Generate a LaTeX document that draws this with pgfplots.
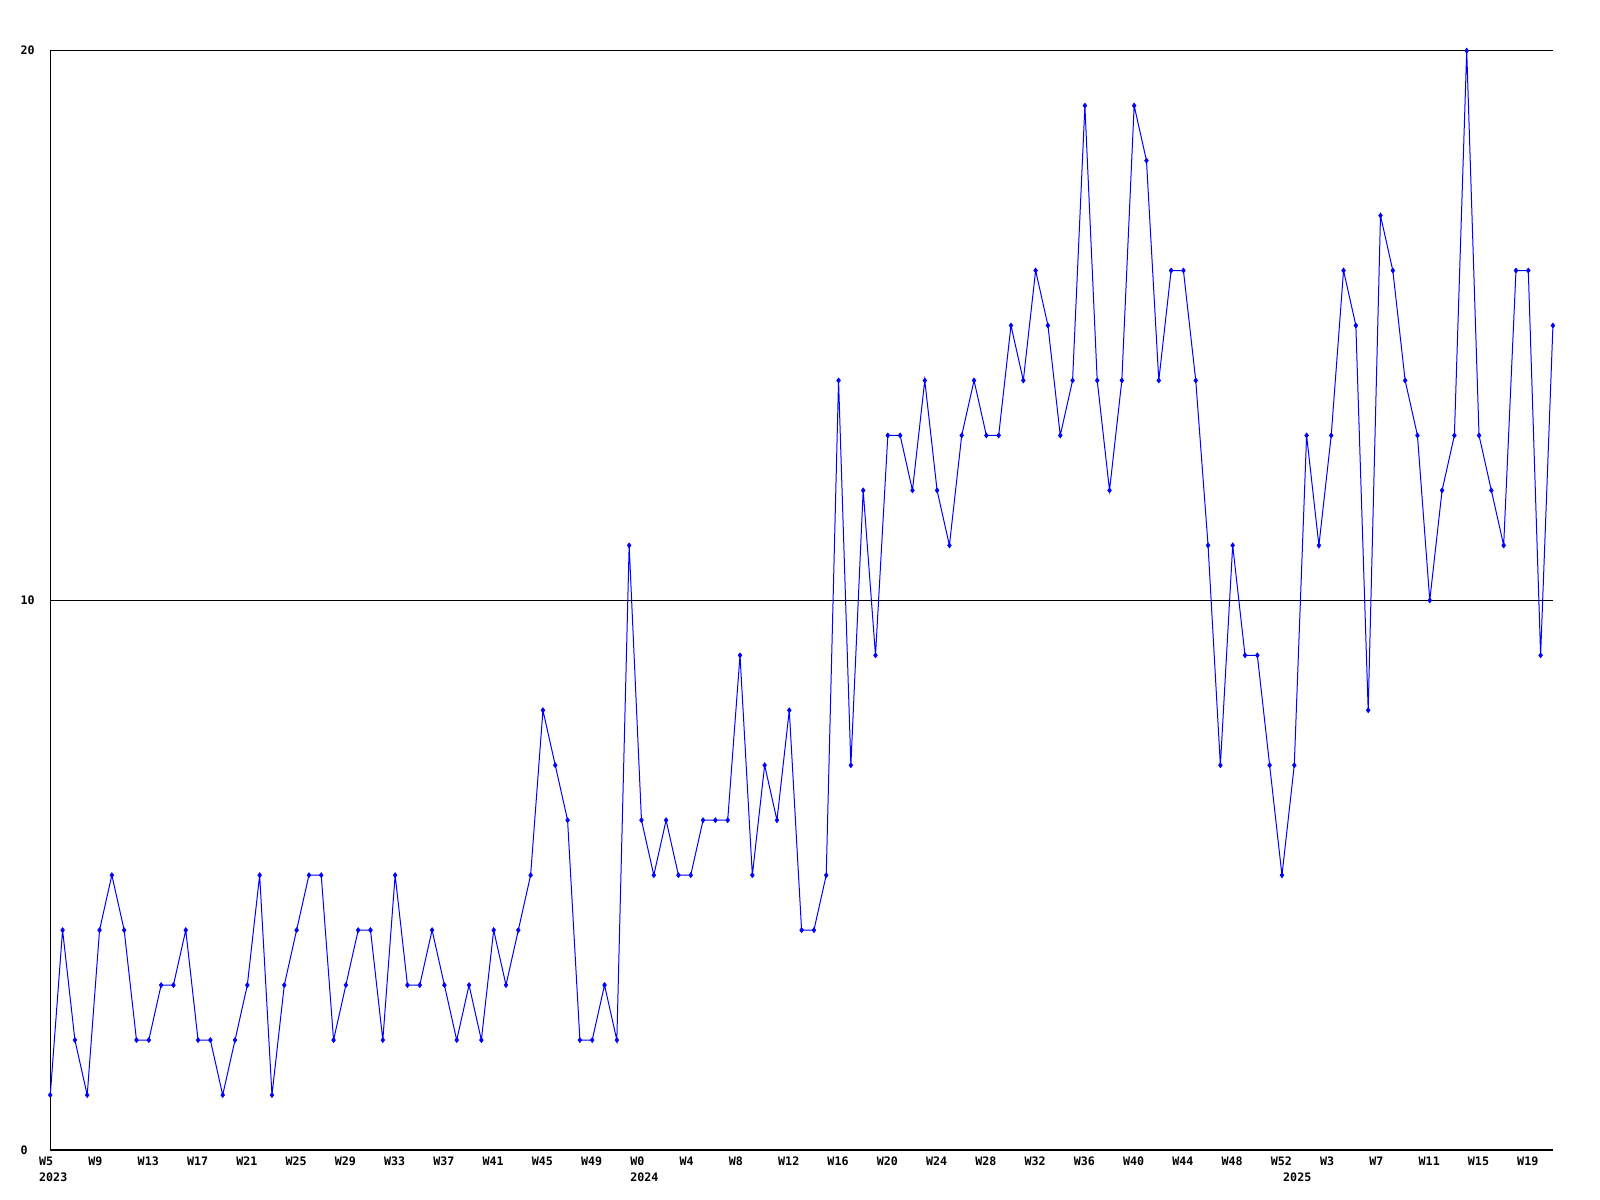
\documentclass[border=0pt]{standalone}
\usepackage{fontspec}
\usepackage{pgfplots}
\usepackage{pgfplotstable}
\pgfplotsset{compat=1.18}
\newfontfamily\gdfont{DejaVu Sans Mono}
\definecolor{lineblue}{RGB}{0,0,255}

% weekly counts, W5 2023 .. W21 2025
\pgfplotstableread{
v
1
4
2
1
4
5
4
2
2
3
3
4
2
2
1
2
3
5
1
3
4
5
5
2
3
4
4
2
5
3
3
4
3
2
3
2
4
3
4
5
8
7
6
2
2
3
2
11
6
5
6
5
5
6
6
6
9
5
7
6
8
4
4
5
14
7
12
9
13
13
12
14
12
11
13
14
13
13
15
14
16
15
13
14
19
14
12
14
19
18
14
16
16
14
11
7
11
9
9
7
5
7
13
11
13
16
15
8
17
16
14
13
10
12
13
20
13
12
11
16
16
9
15
}\weekly

\begin{document}
\begin{tikzpicture}
\begin{axis}[
    at={(0,0)}, anchor=south west,
    scale only axis,
    width=1127pt, height=824.5pt,
    xmin=0, xmax=122, ymin=0, ymax=20,
    axis x line*=bottom, axis y line*=left,
    axis line style={-, black, line width=0.75pt},
    ymajorgrids,
    grid style={black, line width=0.75pt},
    major tick length=0pt,
    ytick={0,10,20}, yticklabels={0,10,20},
    xtick={0,4,...,120},
    xticklabels={W5,W9,W13,W17,W21,W25,W29,W33,W37,W41,W45,W49,W0,W4,W8,W12,W16,W20,W24,W28,W32,W36,W40,W44,W48,W52,W3,W7,W11,W15,W19},
    extra x ticks={0,48,101},
    extra x tick labels={2023,2024,2025},
    extra x tick style={xticklabel style={yshift=-11.6pt}},
    ticklabel style={font=\gdfont\bfseries\fontsize{8.75}{10}\selectfont, inner sep=0pt},
    xticklabel style={anchor=north west, xshift=-8.5pt, yshift=-5.3pt},
    yticklabel style={anchor=west, xshift=-22.5pt},
    clip=false,
]
\addplot[color=lineblue, line width=0.75pt, mark=diamond*, mark size=1.9pt,
    mark options={solid, fill=lineblue, draw=lineblue, line width=0.4pt}]
    table[x expr=\coordindex, y=v] {\weekly};
\end{axis}
\pgfresetboundingbox
\path (-37.7pt,-37.5pt) rectangle (1162.3pt,862.5pt);
\end{tikzpicture}
\end{document}
